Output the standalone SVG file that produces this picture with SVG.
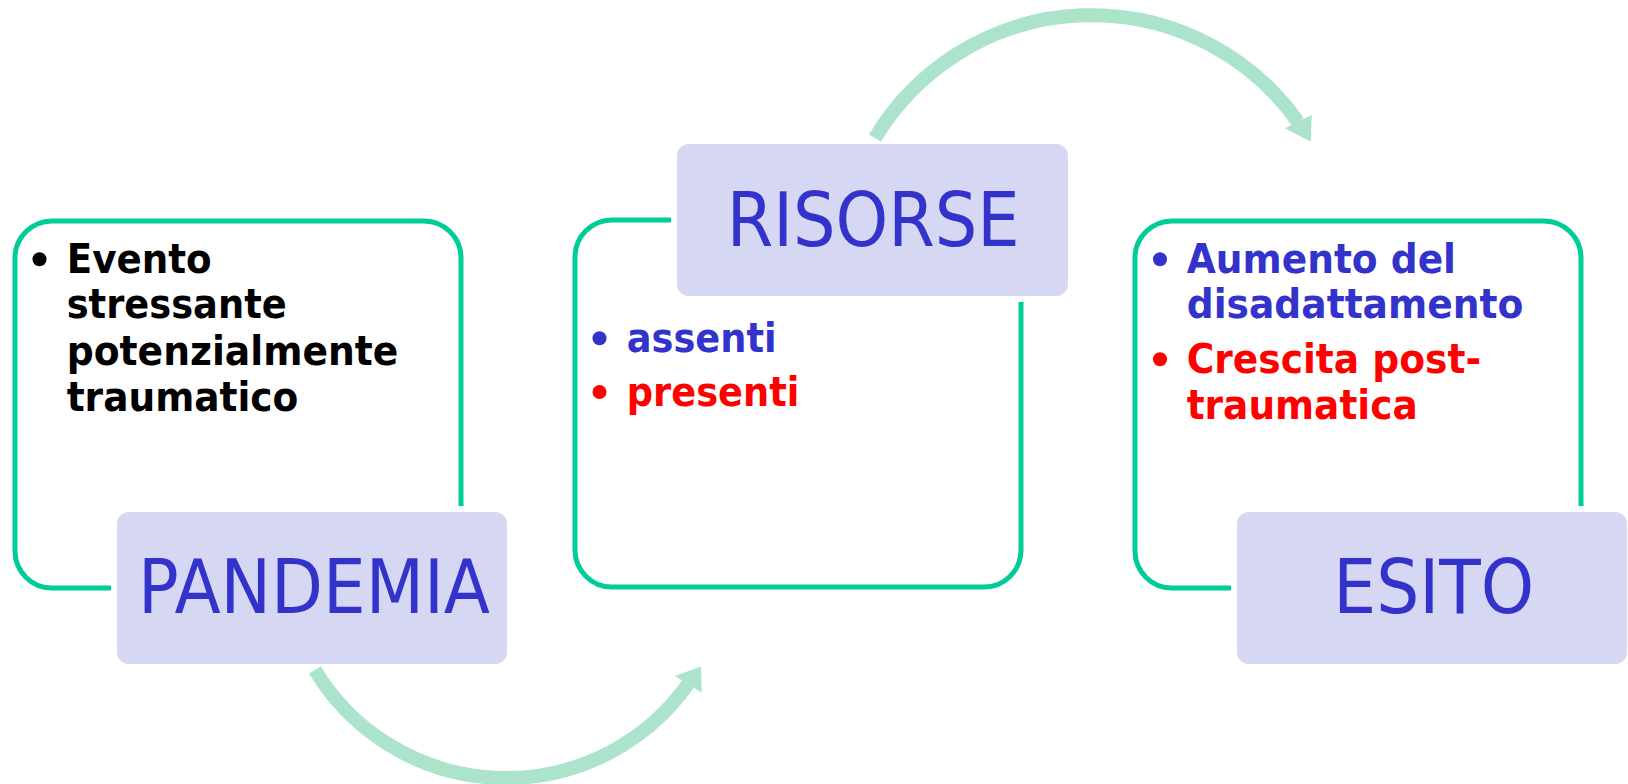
<svg xmlns="http://www.w3.org/2000/svg" width="1628" height="784" viewBox="0 0 1628 784">
  <style>
    .frame { fill: none; stroke: #00CC99; stroke-width: 5; }
    .label { fill: #D6D7F3; }
    .title { font-family: "DejaVu Sans", "Liberation Sans", sans-serif; font-size: 75px; fill: #3333CC; }
    .item { font-family: "DejaVu Sans", "Liberation Sans", sans-serif; font-size: 41px; font-weight: bold; }
    .black { fill: #000000; }
    .blue { fill: #3333CC; }
    .red { fill: #FF0000; }
    .flow { fill: none; stroke: #ABE3CB; stroke-width: 14; }
    .head { fill: #ABE3CB; }
  </style>
  <rect width="1628" height="784" fill="#FFFFFF"/>

  <!-- curved arrows between the stages -->
  <g id="connectors">
    <path class="flow" d="M315,670 A223,223 0 0 0 688,684"/>
    <polygon class="head" points="675,676 701,666.5 701.7,692.7"/>
    <path class="flow" d="M875,138 A252.6,252.6 0 0 1 1298,122"/>
    <polygon class="head" points="1285,128.3 1311.7,115 1310.7,141.7"/>
  </g>

  <!-- stage 1 -->
  <g id="pandemia">
    <path class="frame" d="M461,506 V258 A37,37 0 0 0 424,221 H52 A37,37 0 0 0 15,258 V551 A37,37 0 0 0 52,588 H111"/>
    <circle class="black" cx="39.5" cy="259.3" r="7"/>
    <text class="item black" x="66.7" y="272.7" textLength="145" lengthAdjust="spacingAndGlyphs">Evento</text>
    <text class="item black" x="66.7" y="318.3" textLength="220" lengthAdjust="spacingAndGlyphs">stressante</text>
    <text class="item black" x="66.7" y="365" textLength="331.7" lengthAdjust="spacingAndGlyphs">potenzialmente</text>
    <text class="item black" x="66.7" y="411" textLength="231.7" lengthAdjust="spacingAndGlyphs">traumatico</text>
    <rect class="label" x="117" y="512" width="390" height="152" rx="12"/>
    <text class="title" x="138" y="613.3" textLength="352" lengthAdjust="spacingAndGlyphs">PANDEMIA</text>
  </g>

  <!-- stage 2 -->
  <g id="risorse">
    <path class="frame" d="M671,220 H612 A37,37 0 0 0 575,257 V550 A37,37 0 0 0 612,587 H984 A37,37 0 0 0 1021,550 V302"/>
    <rect class="label" x="677" y="144" width="391" height="152" rx="12"/>
    <text class="title" x="726.7" y="245.7" textLength="293" lengthAdjust="spacingAndGlyphs">RISORSE</text>
    <circle class="blue" cx="599.5" cy="338.2" r="7"/>
    <text class="item blue" x="626.7" y="351.7" textLength="150" lengthAdjust="spacingAndGlyphs">assenti</text>
    <circle class="red" cx="599.5" cy="392" r="7"/>
    <text class="item red" x="626.7" y="406" textLength="172.7" lengthAdjust="spacingAndGlyphs">presenti</text>
  </g>

  <!-- stage 3 -->
  <g id="esito">
    <path class="frame" d="M1581,506 V258 A37,37 0 0 0 1544,221 H1172 A37,37 0 0 0 1135,258 V551 A37,37 0 0 0 1172,588 H1231"/>
    <circle class="blue" cx="1160" cy="259.3" r="7"/>
    <text class="item blue" x="1186.7" y="272.7" textLength="269.3" lengthAdjust="spacingAndGlyphs">Aumento del</text>
    <text class="item blue" x="1186.7" y="318.3" textLength="336.7" lengthAdjust="spacingAndGlyphs">disadattamento</text>
    <circle class="red" cx="1160" cy="359.2" r="7"/>
    <text class="item red" x="1186.7" y="373.3" textLength="294.3" lengthAdjust="spacingAndGlyphs">Crescita post-</text>
    <text class="item red" x="1186.7" y="419.3" textLength="231" lengthAdjust="spacingAndGlyphs">traumatica</text>
    <rect class="label" x="1237" y="512" width="390" height="152" rx="12"/>
    <text class="title" x="1333.3" y="613.3" textLength="201" lengthAdjust="spacingAndGlyphs">ESITO</text>
  </g>
</svg>
